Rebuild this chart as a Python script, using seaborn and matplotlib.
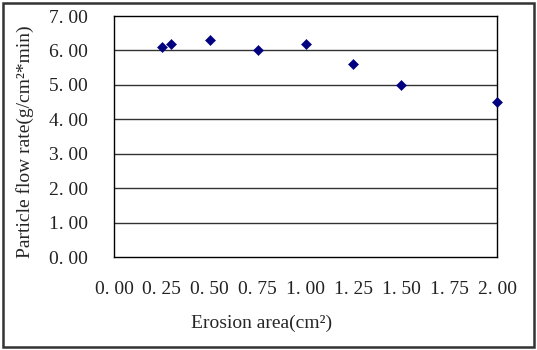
import matplotlib
matplotlib.use('Agg')
import matplotlib.pyplot as plt
import seaborn as sns
import pandas as pd
from matplotlib.patches import Rectangle

# values
erosion_area = [0.25, 0.30, 0.50, 0.75, 1.00, 1.25, 1.50, 2.00]
flow_rate = [6.1, 6.2, 6.3, 6.0, 6.2, 5.6, 5.0, 4.5]
x_ticks = [0.00, 0.25, 0.50, 0.75, 1.00, 1.25, 1.50, 1.75, 2.00]
y_ticks = [0.0, 1.0, 2.0, 3.0, 4.0, 5.0, 6.0, 7.0]

df = pd.DataFrame({'area': erosion_area, 'rate': flow_rate})

sns.set_style('white')
plt.rcParams['font.family'] = ['Liberation Serif', 'DejaVu Serif']

fig = plt.figure(figsize=(5.37, 3.5), dpi=100)
ax = fig.add_axes([114 / 537, 1 - 257 / 350, (497 - 114) / 537, (257 - 16) / 350])

# grid lines at each y tick
for y in y_ticks[1:-1]:
    ax.axhline(y, color='#333333', lw=1.0, zorder=1)

sns.scatterplot(data=df, x='area', y='rate', marker='D', color='#000080',
                edgecolor='#000080', s=26, ax=ax, zorder=3, clip_on=False)

ax.set_xlim(0, 2.0)
ax.set_ylim(0, 7.0)
ax.set_xticks(x_ticks)
ax.set_yticks(y_ticks)
ax.set_xticklabels([('%.2f' % v).replace('.', '. ') for v in x_ticks])
ax.set_yticklabels([('%.2f' % v).replace('.', '. ') for v in y_ticks])
ax.tick_params(axis='x', direction='in', length=4, width=1, color='#555555',
               labelsize=14, pad=17)
ax.tick_params(axis='y', length=0, labelsize=14, pad=19)
for t in ax.get_xticklabels() + ax.get_yticklabels():
    t.set_color('#222222')

for s in ax.spines.values():
    s.set_color('black')
    s.set_linewidth(1.0)

ax.set_xlabel('Erosion area(cm²)', fontsize=14, va='center', ha='center')
ax.set_ylabel('Particle flow rate(g/cm²*min)', fontsize=14, va='center', ha='center')
ax.xaxis.set_label_coords(0.384, -0.274)
ax.yaxis.set_label_coords(-0.232, 0.477)

# outer chart border
fig.patches.append(Rectangle((3 / 537, 3 / 350), 531 / 537, 344 / 350,
                             transform=fig.transFigure, fill=False,
                             edgecolor='#333333', lw=1.8))

fig.savefig('out.png', dpi=100)
